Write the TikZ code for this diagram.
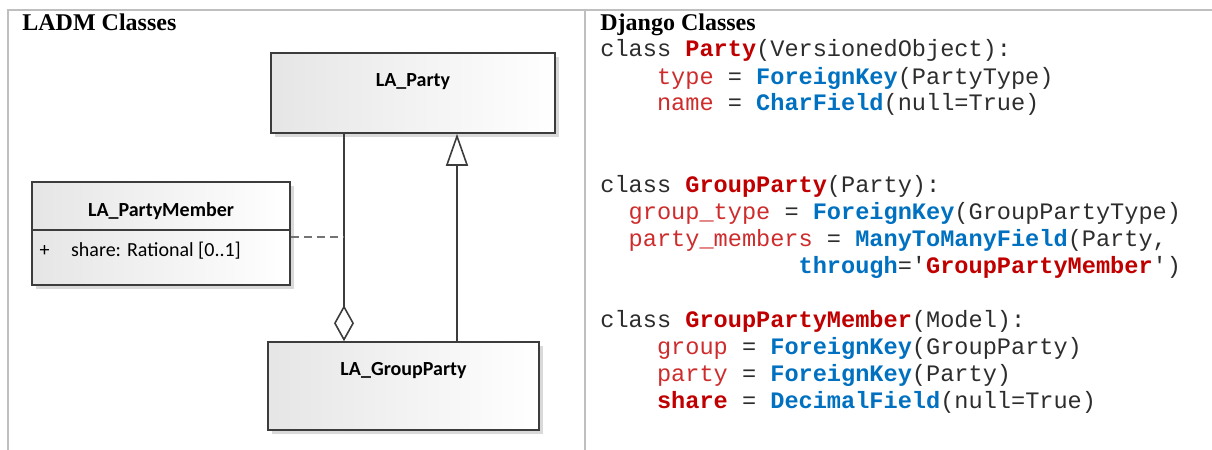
\documentclass[tikz,border=0pt]{standalone}
\usepackage{fontspec}
\setmainfont{Liberation Serif}
\setmonofont{Liberation Mono}
\newfontfamily\umlfont{Carlito}
\usepackage{tikz}
\usetikzlibrary{arrows.meta, shadows}

\definecolor{clsred}{RGB}{192,0,0}
\definecolor{attred}{RGB}{206,44,44}
\definecolor{kwblue}{RGB}{0,112,192}
\definecolor{codegray}{RGB}{45,45,45}
\definecolor{umlline}{RGB}{60,60,60}

\newcommand{\cls}[1]{\textcolor{clsred}{\textbf{#1}}}
\newcommand{\att}[1]{\textcolor{attred}{#1}}
\newcommand{\kw}[1]{\textcolor{kwblue}{\textbf{#1}}}
\newcommand{\indsp}[1]{\hphantom{#1}}

\begin{document}
\begin{tikzpicture}[x=0.5pt, y=-0.5pt,
    frame/.style={draw=black!25, line width=1pt},
    head/.style={anchor=base west, inner sep=0, font=\bfseries\fontsize{12}{14}\selectfont},
    code/.style={anchor=base west, inner sep=0, text=codegray,
        font=\ttfamily\fontsize{11.8}{13.5}\selectfont},
    umlbox/.style={draw=umlline, line width=0.8pt, left color=black!10, right color=white,
        drop shadow={shadow xshift=2pt, shadow yshift=-2pt, fill=black!15, opacity=1}},
    umlname/.style={inner sep=0, font=\umlfont\bfseries\fontsize{10}{12}\selectfont},
    umlattr/.style={inner sep=0, anchor=west, font=\umlfont\fontsize{10}{12}\selectfont},
    agg/.style={draw=umlline, line width=0.8pt, -{Diamond[open, length=18pt, width=10pt]}},
    gen/.style={draw=umlline, line width=0.8pt, -{Triangle[open, length=16pt, width=11pt]}},
    dep/.style={draw=black!55, line width=0.8pt, dash pattern=on 4pt off 2.5pt}]
    \useasboundingbox (0,0) rectangle (1212,450);

    % table frame
    \draw[frame] (8,450) -- (8,10) -- (1212,10);
    \draw[frame] (585,10) -- (585,450);

    \node[head] (ladm) at (22,30.7) {LADM Classes};
    \node[head] (django) at (600,30.7) {Django Classes};

    % UML classes
    \node[umlbox, minimum width=142pt, minimum height=40pt] (party) at (413,93) {};
    \node[umlname] (partyname) at ([yshift=-14.5pt]party.north) {LA\_Party};

    \node[umlbox, minimum width=129pt, minimum height=51.5pt] (member) at (161,233.5) {};
    \node[umlname] (membername) at ([yshift=-14.85pt]member.north) {LA\_PartyMember};
    \draw[umlline, line width=0.8pt] ([yshift=-24.5pt]member.north west) -- ([yshift=-24.5pt]member.north east);
    \node[umlattr] (share) at ([xshift=4pt, yshift=-34.85pt]member.north west) {+\hspace{10.8pt}share: Rational [0..1]};

    \node[umlbox, minimum width=135.5pt, minimum height=44pt] (gparty) at (403.5,386) {};
    \node[umlname] (gpartyname) at ([yshift=-14.85pt]gparty.north) {LA\_GroupParty};

    \coordinate (aggtop) at ([xshift=-34.5pt]party.south);
    \coordinate (gentop) at ([xshift=22pt]party.south);
    \draw[agg] (aggtop) -- (aggtop |- gparty.north);
    \draw[gen] (gentop |- gparty.north) -- (gentop);
    \draw[dep] ([yshift=-1.6pt]member.east) -- ([yshift=-1.6pt]member.east -| aggtop);

    % Django code
    \node[code] (c1) at (600,56.7) {class \cls{Party}(VersionedObject):};
    \node[code] (c2) at (600,84) {\indsp{xxxx}\att{type} = \kw{ForeignKey}(PartyType)};
    \node[code] (c3) at (600,110.7) {\indsp{xxxx}\att{name} = \kw{CharField}(null=True)};
    \node[code] (c4) at (600,192.7) {class \cls{GroupParty}(Party):};
    \node[code] (c5) at (600,219.7) {\indsp{xx}\att{group\_type} = \kw{ForeignKey}(GroupPartyType)};
    \node[code] (c6) at (600,246.7) {\indsp{xx}\att{party\_members} = \kw{ManyToManyField}(Party,};
    \node[code] (c7) at (600,273.7) {\indsp{xxxxxxxxxxxxxx}\kw{through}=\char"27\cls{GroupPartyMember}\char"27)};
    \node[code] (c8) at (600,327.7) {class \cls{GroupPartyMember}(Model):};
    \node[code] (c9) at (600,354.7) {\indsp{xxxx}\att{group} = \kw{ForeignKey}(GroupParty)};
    \node[code] (c10) at (600,381.7) {\indsp{xxxx}\att{party} = \kw{ForeignKey}(Party)};
    \node[code] (c11) at (600,408.7) {\indsp{xxxx}\cls{share} = \kw{DecimalField}(null=True)};
\end{tikzpicture}
\end{document}
